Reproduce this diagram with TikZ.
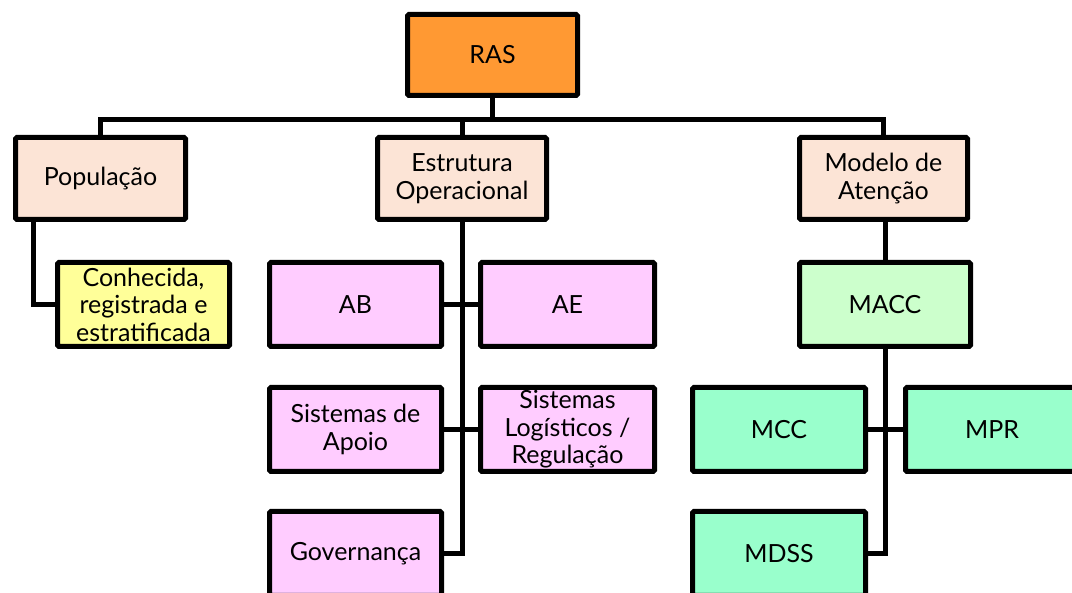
\documentclass[tikz,border=0pt]{standalone}
\usepackage{fontspec}
\setmainfont{Lato}
\definecolor{rasorange}{HTML}{FF9933}
\definecolor{peach}{HTML}{FCE4D6}
\definecolor{paleyellow}{HTML}{FFFF99}
\definecolor{pinkbox}{HTML}{FFCCFF}
\definecolor{palegreen}{HTML}{CCFFCC}
\definecolor{mint}{HTML}{99FFCC}
\tikzset{
  box/.style={draw=black, line width=5pt, rounded corners=1.5pt, align=center,
    inner sep=0pt, font=\fontsize{25}{27.5}\selectfont, text=black},
  conn/.style={draw=black, line width=5pt},
}
\begin{document}
\begin{tikzpicture}[x=1pt,y=-1pt]
\useasboundingbox (0,0) rectangle (1072,593);
\clip (0,0) rectangle (1072,593);
\fill[white] (0,0) rectangle (1072,593);

% top level
\node[box, fill=rasorange, minimum width=170pt, minimum height=81pt] (ras) at (492.5,55) {RAS};

% second level
\node[box, fill=peach, minimum width=170pt, minimum height=82pt] (pop) at (100.5,178.5) {População};
\node[box, fill=peach, minimum width=169pt, minimum height=82pt] (est) at (462,178.5) {Estrutura\\Operacional};
\node[box, fill=peach, minimum width=168pt, minimum height=82pt] (mod) at (883.5,178.5) {Modelo de\\Atenção};

% população branch
\node[box, fill=paleyellow, minimum width=172pt, minimum height=84pt] (con) at (143.5,304.5) {Conhecida,\\registrada e\\estratificada};

% estrutura operacional branch
\node[box, fill=pinkbox, minimum width=172pt, minimum height=84pt] (ab) at (355.5,304.5) {AB};
\node[box, fill=pinkbox, minimum width=174pt, minimum height=84pt] (ae) at (567.5,304.5) {AE};
\node[box, fill=pinkbox, minimum width=172pt, minimum height=84pt] (sa) at (355.5,429.5) {Sistemas de\\Apoio};
\node[box, fill=pinkbox, minimum width=174pt, minimum height=84pt] (sl) at (567.5,429.5) {Sistemas\\Logísticos /\\Regulação};
\node[box, fill=pinkbox, minimum width=172pt, minimum height=84pt] (gov) at (355.5,553.5) {Governança};

% modelo de atenção branch
\node[box, fill=palegreen, minimum width=171pt, minimum height=84pt] (macc) at (885,304.5) {MACC};
\node[box, fill=mint, minimum width=173pt, minimum height=84pt] (mcc) at (779,429.5) {MCC};
\node[box, fill=mint, minimum width=173pt, minimum height=84pt] (mpr) at (992,429.5) {MPR};
\node[box, fill=mint, minimum width=173pt, minimum height=84pt] (mdss) at (779,553.5) {MDSS};

% bus under RAS
\coordinate (bus) at (0,120);
\draw[conn] (ras.south) -- (ras.south |- bus);
\draw[conn] (pop.north) |- (mod.north |- bus) -- (mod.north);
\draw[conn] (est.north) -- (est.north |- bus);

% população to its child
\draw[conn] ([xshift=20pt]pop.south west) |- (con.west);

% estrutura operacional spine
\draw[conn] (est.south) -- (est.south |- gov.east) -- (gov.east);
\draw[conn] (ab.east) -- (ae.west);
\draw[conn] (sa.east) -- (sl.west);

% modelo de atenção spine
\draw[conn] (macc.north) -- (macc.north |- mod.south);
\draw[conn] (macc.south) -- (macc.south |- mdss.east) -- (mdss.east);
\draw[conn] (mcc.east) -- (mpr.west);
\end{tikzpicture}
\end{document}
